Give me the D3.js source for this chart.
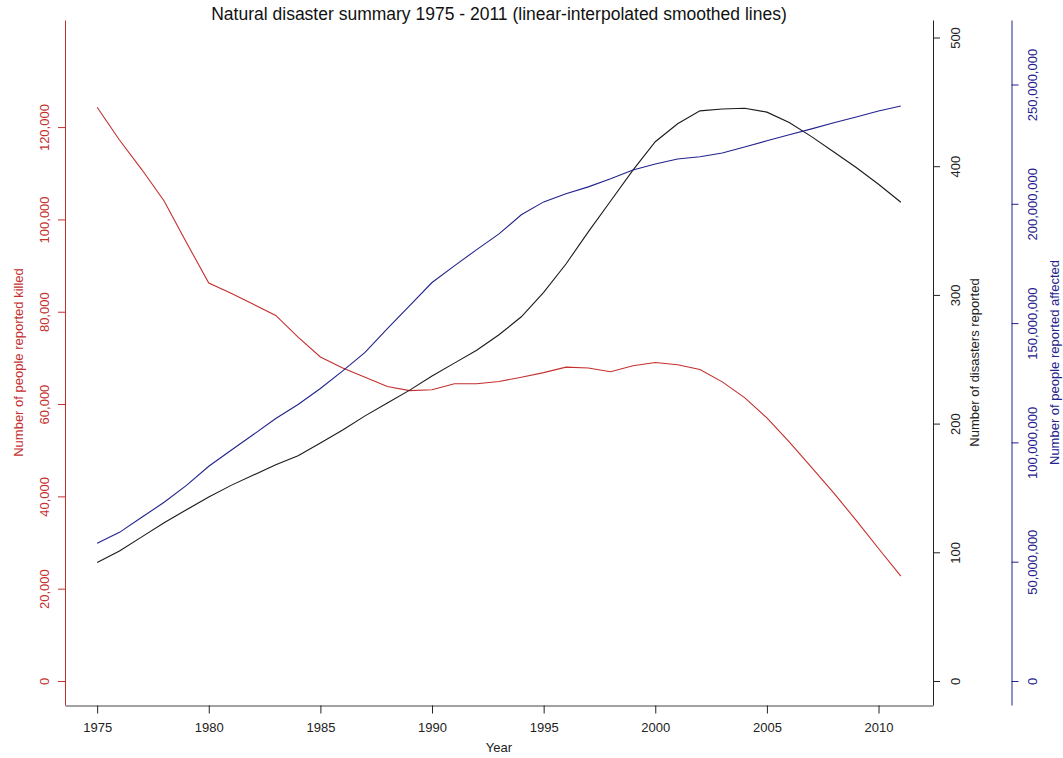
<!DOCTYPE html>
<html>
<head>
<meta charset="utf-8">
<script src="https://cdn.jsdelivr.net/npm/d3@7"></script>
<style>
  html, body { margin: 0; padding: 0; background: #fff; }
  svg { display: block; font-family: "Liberation Sans", Arial, sans-serif; }
</style>
</head>
<body>
<svg id="chart" width="1063" height="758"></svg>
<script>
const years = [1975,1976,1977,1978,1979,1980,1981,1982,1983,1984,1985,1986,1987,1988,1989,1990,1991,1992,1993,1994,1995,1996,1997,1998,1999,2000,2001,2002,2003,2004,2005,2006,2007,2008,2009,2010,2011];

const killed = [124300,117200,110800,104000,95000,86200,84000,81600,79200,74500,70200,67800,65800,63800,62900,63100,64400,64400,64900,65800,66800,68000,67800,67000,68300,69000,68500,67500,64800,61400,57000,51800,46300,40700,34800,28700,22700];

const disasters = [92,101,112,123,133,143,152,160,168,175,185,195,206,216,226,237,247,257,269,283,302,324,349,373,397,419,433,443,444.5,445,442,434,423,411,399,386,372];

const affected = [57.7e6,62.3e6,68.6e6,74.9e6,82.0e6,90.0e6,96.7e6,103.3e6,110.0e6,115.9e6,122.6e6,130.0e6,137.7e6,147.7e6,157.3e6,167.0e6,174.0e6,180.8e6,187.4e6,195.4e6,200.8e6,204.2e6,207.1e6,210.5e6,214.2e6,216.7e6,218.8e6,219.7e6,221.3e6,223.8e6,226.4e6,228.9e6,231.4e6,234.0e6,236.4e6,238.9e6,241.0e6];

const yearTicks = [1975,1980,1985,1990,1995,2000,2005,2010];
const killedTicks = [0,20000,40000,60000,80000,100000,120000];
const disasterTicks = [0,100,200,300,400,500];
const affectedTicks = [0,50e6,100e6,150e6,200e6,250e6];

const titleText = "Natural disaster summary 1975 - 2011 (linear-interpolated smoothed lines)";

const RED = "#c42f2f", BLUE = "#22228e", BLACK = "#222";

const svg = d3.select("#chart");
const pLeft = 65, pRight = 933, pTop = 20, pBottom = 705;

const x = d3.scaleLinear().domain([1973.56, 2012.44]).range([pLeft, pRight]);
const yK = d3.scaleLinear().domain([-5200, 143200]).range([pBottom, pTop]);
const yD = d3.scaleLinear().domain([-18.65, 513.6]).range([pBottom, pTop]);
const yA = d3.scaleLinear().domain([-10.06e6, 277.03e6]).range([pBottom, pTop]);

const fmt = d3.format(",");

function styleAxis(g, color, labelY) {
  g.select(".domain").attr("stroke", color);
  g.selectAll(".tick line").attr("stroke", color);
  g.selectAll(".tick text")
    .attr("fill", color)
    .attr("transform", "rotate(-90)")
    .attr("x", 0).attr("y", labelY).attr("dy", 0)
    .style("text-anchor", "middle")
    .style("font-size", "13px");
}

// left axis: killed
const gK = svg.append("g").attr("transform", `translate(${pLeft},0)`)
  .call(d3.axisLeft(yK).tickValues(killedTicks).tickFormat(fmt).tickSize(7).tickSizeOuter(0))
  .attr("font-family", null).attr("font-size", null);
styleAxis(gK, RED, -16.5);

// right axis: disasters
const gD = svg.append("g").attr("transform", `translate(${pRight},0)`)
  .call(d3.axisRight(yD).tickValues(disasterTicks).tickFormat(d3.format("d")).tickSize(7).tickSizeOuter(0))
  .attr("font-family", null).attr("font-size", null);
styleAxis(gD, BLACK, 26.5);

// far right axis: affected
const gA = svg.append("g").attr("transform", `translate(1011.5,0)`)
  .call(d3.axisRight(yA).tickValues(affectedTicks).tickFormat(fmt).tickSize(7).tickSizeOuter(0))
  .attr("font-family", null).attr("font-size", null);
styleAxis(gA, BLUE, 25.5);

// bottom axis
const gX = svg.append("g").attr("transform", `translate(0,${pBottom + 0.5})`)
  .call(d3.axisBottom(x).tickValues(yearTicks).tickFormat(d3.format("d")).tickSize(8).tickSizeOuter(0))
  .attr("font-family", null).attr("font-size", null);
gX.select(".domain").attr("stroke", "#444");
gX.selectAll(".tick line").attr("stroke", "#222");
gX.selectAll(".tick text").attr("fill", "#222").attr("y", 0).attr("dy", 0)
  .attr("transform", "translate(0,26)").style("font-size", "13px");

// lines
const mkLine = (ys) => d3.line().x((d, i) => x(years[i])).y(d => ys(d));
svg.append("path").datum(killed).attr("d", mkLine(yK)).attr("fill", "none").attr("stroke", RED).attr("stroke-width", 1.1);
svg.append("path").datum(disasters).attr("d", mkLine(yD)).attr("fill", "none").attr("stroke", "#1a1a1a").attr("stroke-width", 1.1);
svg.append("path").datum(affected).attr("d", mkLine(yA)).attr("fill", "none").attr("stroke", BLUE).attr("stroke-width", 1.1);

// axis titles
const midY = (pTop + pBottom) / 2;
svg.append("text").attr("transform", `translate(23,${midY}) rotate(-90)`)
  .attr("text-anchor", "middle").attr("fill", RED).style("font-size", "13px")
  .text("Number of people reported killed");
svg.append("text").attr("transform", `translate(979,${midY}) rotate(-90)`)
  .attr("text-anchor", "middle").attr("fill", BLACK).style("font-size", "13px")
  .text("Number of disasters reported");
svg.append("text").attr("transform", `translate(1058.5,${midY}) rotate(-90)`)
  .attr("text-anchor", "middle").attr("fill", BLUE).style("font-size", "13px")
  .text("Number of people reported affected");

svg.append("text").attr("x", (pLeft + pRight) / 2).attr("y", 752)
  .attr("text-anchor", "middle").attr("fill", "#222").style("font-size", "13px")
  .text("Year");

svg.append("text").attr("x", (pLeft + pRight) / 2).attr("y", 20)
  .attr("text-anchor", "middle").attr("fill", "#111").style("font-size", "17.5px")
  .text(titleText);
</script>
</body>
</html>
